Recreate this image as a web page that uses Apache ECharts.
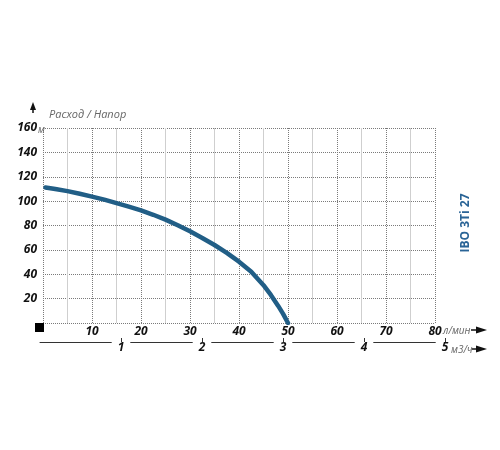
<!DOCTYPE html>
<html>
<head>
<meta charset="utf-8">
<script src="https://cdn.jsdelivr.net/npm/echarts@6/dist/echarts.min.js"></script>
<style>html,body{margin:0;padding:0;background:#fff}#c{width:500px;height:450px}</style>
</head>
<body>
<div id="c"></div>
<script>
// Data (flow in l/min, head in m)
var flowLpm = [0.5, 2.5, 5, 7.5, 10, 12.5, 15, 17.5, 20, 22.5, 25, 27.5, 30, 32.5, 35, 37.5, 40, 42.5, 45, 46.5, 48, 49, 50];
var headM   = [111.2, 110, 108.2, 106, 103.7, 101.2, 98.4, 95.5, 92.4, 88.8, 84.8, 80.2, 75.2, 69.8, 64, 57.5, 50.3, 42, 31, 23, 14, 7.5, 0];
var flowTicksLpm = [10, 20, 30, 40, 50, 60, 70, 80];
var flowTicksM3h = [1, 2, 3, 4, 5];
var headTicks = [20, 40, 60, 80, 100, 120, 140, 160];
var modelName = 'IBO 3Ti 27';
var yAxisTitle = 'Расход / Напор';
var unitHead = 'м', unitLpm = 'л/мин', unitM3h = 'м3/ч';

var chart = echarts.init(document.getElementById('c'), null, {renderer: 'canvas'});
var dotted = {color: '#7a7a7a', type: 'dotted', width: 1};
var lblStyle = {color: '#111', fontWeight: 'bold', fontStyle: 'italic', fontSize: 12, fontFamily: 'Open Sans'};
var gray = '#666';

chart.setOption({
  animation: false,
  grid: [
    {left: 43, right: 65, top: 128, bottom: 127},
    {left: 40, width: 405, top: 338, height: 4}
  ],
  xAxis: [
    {
      type: 'value', gridIndex: 0, min: 0, max: 80, interval: 10,
      axisLine: {show: false}, axisTick: {show: false},
      splitLine: {show: true, lineStyle: dotted},
      minorTick: {show: false, splitNumber: 2},
      minorSplitLine: {show: true, lineStyle: {color: '#cfcfcf', width: 1}},
      axisLabel: Object.assign({margin: 3, customValues: flowTicksLpm}, lblStyle)
    },
    {
      type: 'value', gridIndex: 1, min: 0, max: 5, interval: 1, offset: 7,
      axisLine: {show: true, lineStyle: {color: '#333', width: 1}},
      axisTick: {show: false},
      splitLine: {show: true, showMinLine: false, lineStyle: {color: '#333', width: 1}},
      axisLabel: Object.assign({margin: -7, customValues: flowTicksM3h, backgroundColor: '#fff', padding: [0, 6, 0, 6]}, lblStyle)
    }
  ],
  yAxis: [
    {
      type: 'value', gridIndex: 0, min: 0, max: 160, interval: 20,
      axisLine: {show: false}, axisTick: {show: false},
      splitLine: {show: true, lineStyle: dotted},
      axisLabel: Object.assign({margin: 6, customValues: headTicks}, lblStyle)
    },
    {type: 'value', gridIndex: 1, show: false, min: 0, max: 1}
  ],
  series: [{
    type: 'line', xAxisIndex: 0, yAxisIndex: 0,
    data: flowLpm.map(function (f, i) { return [f, headM[i]]; }),
    smooth: false, showSymbol: false, symbol: 'none',
    lineStyle: {color: '#215e86', width: 4.5, cap: 'round', join: 'round'}
  }],
  graphic: [
    {type: 'rect', z: 100, shape: {x: 35, y: 323, width: 9, height: 9}, style: {fill: '#000'}},
    {type: 'polygon', z: 100, shape: {points: [[33, 102], [30, 110], [36, 110]]}, style: {fill: '#111'}},
    {type: 'line', z: 100, shape: {x1: 33, y1: 106, x2: 33, y2: 113}, style: {stroke: '#111', lineWidth: 1.5}},
    {type: 'text', z: 100, x: 49, y: 115, style: {text: yAxisTitle, fill: gray, font: 'italic 11px "Open Sans"', verticalAlign: 'middle'}},
    {type: 'text', z: 100, x: 38, y: 130, style: {text: unitHead, fill: gray, font: 'italic 10px "Open Sans"', verticalAlign: 'middle'}},
    {type: 'text', z: 100, x: 443, y: 331, style: {text: unitLpm, fill: gray, font: 'italic 10px "Open Sans"', verticalAlign: 'middle'}},
    {type: 'line', z: 100, shape: {x1: 471, y1: 330, x2: 478, y2: 330}, style: {stroke: '#111', lineWidth: 1.5}},
    {type: 'polygon', z: 100, shape: {points: [[476, 326.5], [487, 330], [476, 333.5]]}, style: {fill: '#111'}},
    {type: 'text', z: 100, x: 451, y: 350, style: {text: unitM3h, fill: gray, font: 'italic 10px "Open Sans"', verticalAlign: 'middle'}},
    {type: 'line', z: 100, shape: {x1: 472, y1: 349, x2: 478, y2: 349}, style: {stroke: '#111', lineWidth: 1.5}},
    {type: 'polygon', z: 100, shape: {points: [[476, 345.5], [487, 349], [476, 352.5]]}, style: {fill: '#111'}},
    {type: 'text', z: 100, x: 466, y: 223, rotation: Math.PI / 2, style: {text: modelName, fill: '#2a6496', font: 'bold 12px "Open Sans"', align: 'center', verticalAlign: 'middle'}}
  ]
});
</script>
</body>
</html>
